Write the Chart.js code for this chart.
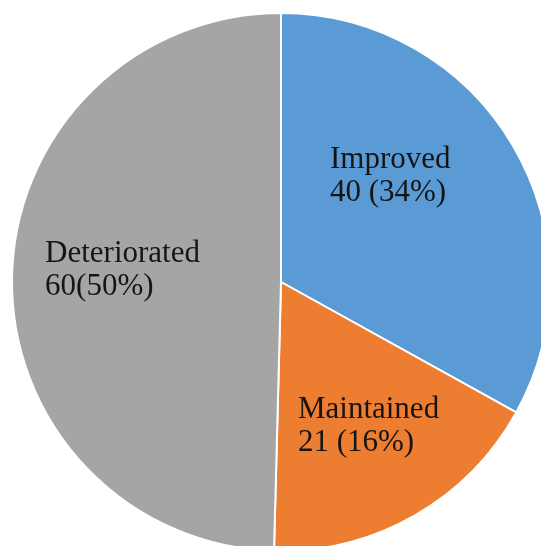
<!DOCTYPE html>
<html>
<head>
<meta charset="utf-8">
<script src="https://cdn.jsdelivr.net/npm/chart.js@4/dist/chart.umd.min.js"></script>
<style>
    html, body { margin: 0; padding: 0; background: #fff; overflow: hidden; width: 541px; height: 546px; }
    #wrap { position: absolute; left: 1px; top: 2px; width: 560px; height: 560px; }
</style>
</head>
<body>
<div id="wrap"><canvas id="pieChart" width="560" height="560"></canvas></div>
<script>
const categories = ['Improved', 'Maintained', 'Deteriorated'];
const values = [40, 21, 60];
const valueLabels = ['40 (34%)', '21 (16%)', '60(50%)'];
const sliceColors = ['#5B9BD5', '#ED7D31', '#A5A5A5'];

// where each label block sits, as a fraction of the radius from the centre
const labelOffsets = [
    { dx: 0.182, dy: -0.424 },
    { dx: 0.063, dy: 0.506 },
    { dx: -0.877, dy: -0.074 }
];

const sliceLabels = {
    id: 'sliceLabels',
    afterDatasetsDraw(chart) {
        const ctx = chart.ctx;
        const arcs = chart.getDatasetMeta(0).data;
        ctx.save();
        ctx.font = '31px "Liberation Serif", "Times New Roman", serif';
        ctx.fillStyle = '#151515';
        ctx.textAlign = 'left';
        ctx.textBaseline = 'alphabetic';
        arcs.forEach((arc, i) => {
            const r = arc.outerRadius;
            const x = arc.x + labelOffsets[i].dx * r;
            const y = arc.y + labelOffsets[i].dy * r;
            ctx.fillText(categories[i], x, y);
            ctx.fillText(valueLabels[i], x, y + 33);
        });
        ctx.restore();
    }
};

const pieChart = new Chart(document.getElementById('pieChart'), {
    type: 'pie',
    data: {
        labels: categories,
        datasets: [{
            data: values,
            backgroundColor: sliceColors,
            borderColor: '#ffffff',
            borderWidth: 2
        }]
    },
    options: {
        responsive: false,
        animation: false,
        radius: 269,
        layout: { padding: 0 },
        plugins: {
            legend: { display: false },
            tooltip: { enabled: false }
        }
    },
    plugins: [sliceLabels]
});
</script>
</body>
</html>
